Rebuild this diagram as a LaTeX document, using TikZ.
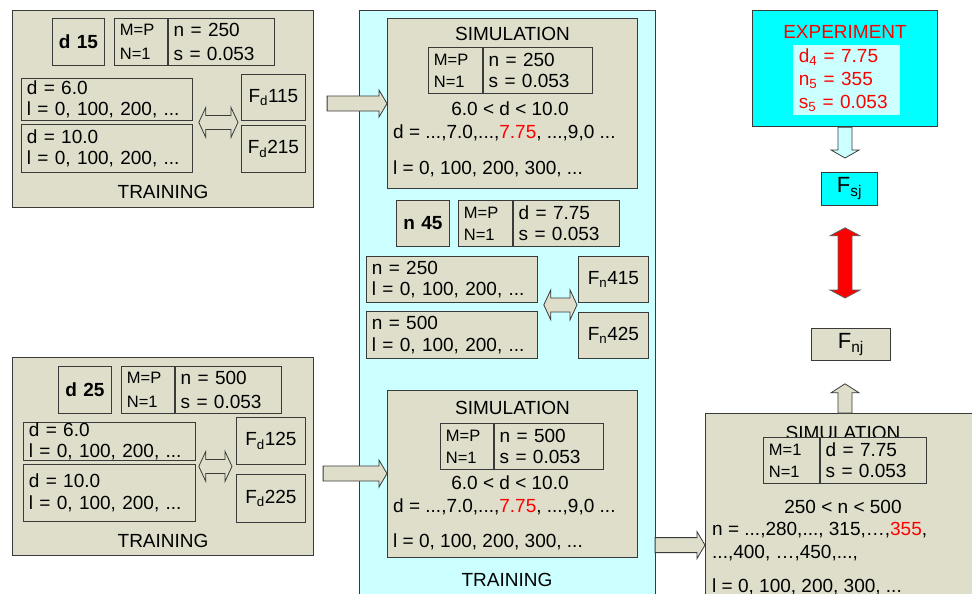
\documentclass[tikz,border=0pt]{standalone}
\usepackage{fontspec}
\setmainfont{Liberation Sans}
\usetikzlibrary{calc,positioning}
\definecolor{cBeige}{HTML}{DEDECB}
\definecolor{cPale}{HTML}{CCFFFF}
\definecolor{cCyan}{HTML}{00FFFF}
\definecolor{cRed}{HTML}{FF0000}
\definecolor{cInk}{HTML}{3A3A3A}
\newcommand\fbig{\fontsize{19}{21.5}\selectfont}
\newcommand\fsmall{\fontsize{16.5}{22}\selectfont}
\newcommand\fhuge{\fontsize{22}{24}\selectfont}
\newcommand\hot[1]{\textcolor{cRed}{#1}}
% block arrows between two points (style, tail, tip)
\newcommand\fatright[3]{%
  \draw[#1] let \p1=(#2), \p2=(#3) in
    (\x1,\y2+7.5pt) -- (\x2-8pt,\y2+7.5pt) -- (\x2-8pt,\y2+13.5pt) -- (\x2,\y2)
    -- (\x2-8pt,\y2-13.5pt) -- (\x2-8pt,\y2-7.5pt) -- (\x1,\y2-7.5pt) -- cycle;}
\newcommand\fatvert[4]{%
  \draw[#1] let \p1=(#2), \p2=(#3) in
    (\x2-7pt,\y1) -- (\x2-7pt,\y2+#4) -- (\x2-14pt,\y2+#4) -- (\x2,\y2)
    -- (\x2+14pt,\y2+#4) -- (\x2+7pt,\y2+#4) -- (\x2+7pt,\y1) -- cycle;}
\newcommand\fatvboth[3]{%
  \draw[#1] let \p1=(#2), \p2=(#3) in
    (\x1,\y1) -- (\x1+15pt,\y1-8pt) -- (\x1+7pt,\y1-8pt) -- (\x1+7pt,\y2+8pt)
    -- (\x1+15pt,\y2+8pt) -- (\x1,\y2) -- (\x1-15pt,\y2+8pt) -- (\x1-7pt,\y2+8pt)
    -- (\x1-7pt,\y1-8pt) -- (\x1-15pt,\y1-8pt) -- cycle;}
\newcommand\fathboth[3]{%
  \draw[#1] let \p1=(#2), \p2=(#3) in
    (\x1,\y1) -- (\x1+7pt,\y1+15pt) -- (\x1+7pt,\y1+7pt) -- (\x2-7pt,\y1+7pt)
    -- (\x2-7pt,\y1+15pt) -- (\x2,\y1) -- (\x2-7pt,\y1-15pt) -- (\x2-7pt,\y1-7pt)
    -- (\x1+7pt,\y1-7pt) -- (\x1+7pt,\y1-15pt) -- cycle;}
\tikzset{
  panel/.style  = {draw=cInk, line width=1.1pt, fill=cBeige, anchor=north west, inner sep=0pt},
  cell/.style   = {draw=cInk, line width=0.8pt, fill=cBeige, anchor=north west,
                   align=left, inner xsep=5.5pt, inner ysep=0pt, font=\fbig},
  mpcell/.style = {cell, font=\fsmall},
  tag/.style    = {cell, align=center, font=\fbig\bfseries},
  fcell/.style  = {cell, align=center},
  txt/.style    = {font=\fbig, inner sep=0pt},
  fat/.style    = {draw=cInk, line width=0.8pt, fill=cBeige},
  fatpale/.style = {fat, fill=cPale},
  fatred/.style = {draw=cInk!80, line width=0.8pt, fill=cRed},
}
\begin{document}
\begin{tikzpicture}[x=1pt, y=-1pt]
  \useasboundingbox (0,0) rectangle (972,594);
  \clip (0,0) rectangle (972,594);

  % training d, n = 250
  \node[panel, minimum width=301pt, minimum height=197pt] (trainA) at (12,10) {};
  \node[tag, text width=41pt, minimum height=47pt] (dA) at (52,18) {d 15};
  \node[mpcell, text width=42pt, minimum height=47pt] (mpA) at (114,18) {M=P\\[2pt]N=1};
  \node[cell, text width=95pt, minimum height=47pt] (nsA) at (mpA.north east) {n = 250\\[3pt]s = 0.053};
  \node[cell, text width=160pt, minimum height=42pt] (dA1) at (21,78) {d = 6.0\\l = 0, 100, 200, ...};
  \node[cell, text width=160pt, minimum height=48pt] (dA2) at (21,124) {d = 10.0\\l = 0, 100, 200, ...};
  \node[fcell, text width=53pt, minimum height=46pt] (fA1) at (241,74) {F\textsubscript{d}115};
  \node[fcell, text width=53pt, minimum height=47pt] (fA2) at (241,125) {F\textsubscript{d}215};
  \node[txt] (trA) at ($(trainA.south)+(0,-16)$) {TRAINING};

  % training d, n = 500
  \node[panel, minimum width=301pt, minimum height=198pt] (trainB) at (12,357) {};
  \node[tag, text width=42pt, minimum height=47pt] (dB) at (58,366) {d 25};
  \node[mpcell, text width=42pt, minimum height=47pt] (mpB) at (121,366) {M=P\\[2pt]N=1};
  \node[cell, text width=95pt, minimum height=47pt] (nsB) at (mpB.north east) {n = 500\\[3pt]s = 0.053};
  \node[cell, text width=161pt, minimum height=38pt] (dB1) at (23,422) {d = 6.0\\l = 0, 100, 200, ...};
  \node[cell, text width=161pt, minimum height=57pt] (dB2) at (23,464) {d = 10.0\\l = 0, 100, 200, ...};
  \node[fcell, text width=58pt, minimum height=47pt] (fB1) at (236,417) {F\textsubscript{d}125};
  \node[fcell, text width=58pt, minimum height=48pt] (fB2) at (236,474) {F\textsubscript{d}225};
  \node[txt] (trB) at ($(trainB.south)+(0,-15)$) {TRAINING};

  % training n
  \node[panel, fill=cPale, minimum width=296pt, minimum height=620pt] (mid) at (359,10) {};
  \node[panel, minimum width=250pt, minimum height=170pt] (simA) at (387,18) {};
  \node[txt] (simAt) at ($(simA.north)+(0,16)$) {SIMULATION};
  \node[mpcell, text width=43pt, minimum height=46pt] (mpC) at (428,47) {M=P\\N=1};
  \node[cell, text width=98pt, minimum height=46pt] (nsC) at (mpC.north east) {n = 250\\s = 0.053};
  \node[txt] (rgA) at (510,109) {6.0 < d < 10.0};
  \node[txt, anchor=west] (dlA) at (393,133) {d = ...,7.0,...,\hot{7.75}, ...,9,0 ...};
  \node[txt, anchor=west] (llA) at (393,169) {l = 0, 100, 200, 300, ...};

  \node[tag, text width=42pt, minimum height=46pt] (nC) at (396,200) {n 45};
  \node[mpcell, text width=43pt, minimum height=46pt] (mpD) at (458,200) {M=P\\N=1};
  \node[cell, text width=95pt, minimum height=46pt] (dsD) at (mpD.north east) {d = 7.75\\s = 0.053};
  \node[cell, text width=160pt, minimum height=46pt] (nD1) at (366,256) {n = 250\\l = 0, 100, 200, ...};
  \node[cell, text width=160pt, minimum height=47pt] (nD2) at (366,311) {n = 500\\l = 0, 100, 200, ...};
  \node[fcell, text width=59pt, minimum height=46pt] (fD1) at (578,256) {F\textsubscript{n}415};
  \node[fcell, text width=59pt, minimum height=46pt] (fD2) at (578,312) {F\textsubscript{n}425};

  \node[panel, minimum width=250pt, minimum height=167pt] (simB) at (387,390) {};
  \node[txt] (simBt) at ($(simB.north)+(0,18)$) {SIMULATION};
  \node[mpcell, text width=42pt, minimum height=46pt] (mpE) at (440,423) {M=P\\N=1};
  \node[cell, text width=98pt, minimum height=46pt] (nsE) at (mpE.north east) {n = 500\\s = 0.053};
  \node[txt] (rgB) at (510,483) {6.0 < d < 10.0};
  \node[txt, anchor=west] (dlB) at (393,507) {d = ...,7.0,...,\hot{7.75}, ...,9,0 ...};
  \node[txt, anchor=west] (llB) at (393,542) {l = 0, 100, 200, 300, ...};
  \node[txt] (trC) at (507,580) {TRAINING};

  % simulation n
  \node[panel, minimum width=300pt, minimum height=250pt] (simC) at (705,413) {};
  \node[txt] (simCt) at (843,433) {SIMULATION};
  \node[mpcell, text width=45pt, minimum height=46pt] (mpF) at (763,437) {M=1\\N=1};
  \node[cell, text width=95pt, minimum height=46pt] (dsF) at (mpF.north east) {d = 7.75\\s = 0.053};
  \node[txt] (rgC) at (843,507) {250 < n < 500};
  \node[txt, anchor=west] (nlC) at (712,530) {n = ...,280,..., 315,…,\hot{355},};
  \node[txt, anchor=west] (nlC2) at (712,553) {...,400, …,450,...,};
  \node[txt, anchor=west] (llC) at (712,587) {l = 0, 100, 200, 300, ...};

  % experiment
  \node[panel, fill=cCyan, minimum width=185pt, minimum height=116pt] (exp) at (752,10) {};
  \node[txt, text=cRed] (expt) at ($(exp.north)+(0,22)$) {EXPERIMENT};
  \node[cell, draw=none, fill=cPale, text=cRed, text width=96pt, minimum height=70pt] (expv) at (793,45)
    {d\textsubscript{4} = 7.75\\[1.5pt]n\textsubscript{5} = 355\\[1.5pt]s\textsubscript{5} = 0.053};
  \node[fcell, fill=cCyan, font=\fhuge, text width=45pt, minimum height=33pt] (Fsj) at (821,172) {F\textsubscript{sj}};
  \node[fcell, font=\fhuge, text width=68pt, minimum height=32pt] (Fnj) at (811,328) {F\textsubscript{nj}};

  % arrows
  \coordinate (aA) at ($(trainA.east)+(13,-5.5)$);
  \coordinate (aB) at ($(trainB.east)+(9,17)$);
  \coordinate (aC) at ($(mid.east |- simB.south)+(-1,-13)$);
  \fatright{fat}{aA}{aA -| simA.west}
  \fatright{fat}{aB}{aB -| simB.west}
  \fatright{fat}{aC}{aC -| simC.west}
  \coordinate (lA) at ($(dA1.south east)!0.5!(dA2.north east)+(6,0)$);
  \coordinate (lB) at ($(dB1.south east)!0.5!(dB2.north east)+(3,4)$);
  \coordinate (lD) at ($(nD1.south east)!0.5!(nD2.north east)+(6,-2)$);
  \fathboth{fat}{lA}{$(lA -| fA1.west)+(-3,0)$}
  \fathboth{fat}{lB}{$(lB -| fB1.west)+(-4,0)$}
  \fathboth{fat}{lD}{$(lD -| fD1.west)+(-1,0)$}
  \fatvert{fatpale}{exp.south}{$(exp.south |- Fsj.north)+(0,-14)$}{8pt}
  \fatvboth{fatred}{$(exp.south |- Fsj.south)+(0,22)$}{$(exp.south |- Fnj.north)+(0,-30)$}
  \fatvert{fat}{exp.south |- simC.north}{$(exp.south |- Fnj.south)+(0,23)$}{-9pt}
\end{tikzpicture}
\end{document}
